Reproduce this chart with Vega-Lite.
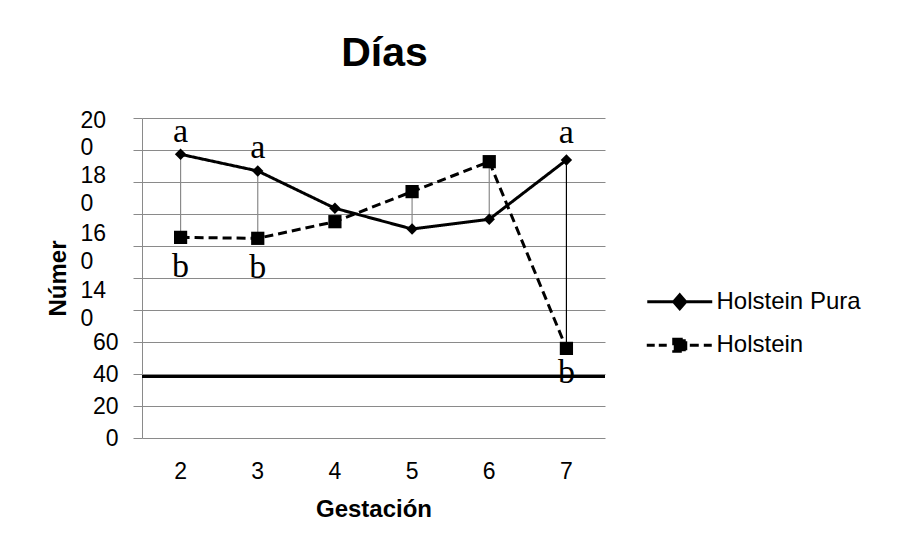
{
  "$schema": "https://vega.github.io/schema/vega-lite/v6.json",
  "width": 463,
  "height": 320,
  "autosize": "none",
  "padding": {"left": 142, "top": 118, "right": 294, "bottom": 110},
  "background": "white",
  "config": {"view": {"stroke": null}, "font": "Liberation Sans"},
  "title": {"text": "Días", "fontSize": 41, "fontWeight": "bold", "font": "Liberation Sans", "color": "black", "anchor": "middle", "frame": "group", "baseline": "alphabetic", "offset": 2, "dx": 11},
  "datasets": {
    "series": [
      {"g": 2, "serie": "Holstein Pura", "v": 177.3},
      {"g": 3, "serie": "Holstein Pura", "v": 166.9},
      {"g": 4, "serie": "Holstein Pura", "v": 143.6},
      {"g": 5, "serie": "Holstein Pura", "v": 130.6},
      {"g": 6, "serie": "Holstein Pura", "v": 136.7},
      {"g": 7, "serie": "Holstein Pura", "v": 173.75},
      {"g": 2, "serie": "Holstein", "v": 125.4},
      {"g": 3, "serie": "Holstein", "v": 124.8},
      {"g": 4, "serie": "Holstein", "v": 135.2},
      {"g": 5, "serie": "Holstein", "v": 154},
      {"g": 6, "serie": "Holstein", "v": 172.7},
      {"g": 7, "serie": "Holstein", "v": 56}
    ],
    "letras": [
      {"g": 2, "letra": "a", "v": 185.2},
      {"g": 3, "letra": "a", "v": 174.8},
      {"g": 7, "letra": "a", "v": 184.2},
      {"g": 2, "letra": "b", "v": 100.8},
      {"g": 3, "letra": "b", "v": 99.8},
      {"g": 7, "letra": "b", "v": 34.2}
    ]
  },
  "encoding": {
    "x": {
      "field": "g", "type": "ordinal",
      "scale": {"paddingInner": 0, "paddingOuter": 0},
      "axis": {"title": "Gestación", "titleFontSize": 24, "titleFontWeight": "bold", "titleColor": "black", "titlePadding": 14, "labelFontSize": 23, "labelColor": "black", "labelAngle": 0, "labelPadding": 22, "ticks": false, "domain": false, "grid": false}
    }
  },
  "layer": [
    {
      "data": {"name": "series"},
      "mark": {"type": "rule", "strokeWidth": 1.2},
      "transform": [{"filter": "datum.g != 4"}],
      "encoding": {
        "y": {
          "aggregate": "min", "field": "v", "type": "quantitative",
          "scale": {"domain": [0, 200], "nice": false},
          "title": "Númer",
          "axis": {
            "title": "Númer",
            "titleFontSize": 24, "titleFontWeight": "bold", "titleColor": "black", "titlePadding": 10,
            "values": [0, 20, 40, 60, 80, 100, 120, 140, 160, 180, 200],
            "tickCount": 20,
            "labelExpr": "datum.value == 200 ? ['20', '0'] : datum.value == 160 ? ['18', '0'] : datum.value == 120 ? ['16', '0'] : datum.value == 80 ? ['14', '0'] : (datum.value == 100 || datum.value == 140 || datum.value == 180) ? '' : datum.label",
            "labelFontSize": 23, "labelColor": "black",
            "labelOverlap": false, "labelBound": false, "labelFlush": false,
            "labelLineHeight": 27.5,
            "labelBaseline": "middle",
            "labelAlign": {"condition": {"test": "datum.value == 80 || datum.value == 120 || datum.value == 160 || datum.value == 200", "value": "left"}, "value": "right"},
            "labelPadding": {"condition": {"test": "datum.value == 80 || datum.value == 120 || datum.value == 160 || datum.value == 200", "value": 53}, "value": 15},
            "labelOffset": {"condition": [
              {"test": "datum.value == 200", "value": 2},
              {"test": "datum.value == 160", "value": -6.5},
              {"test": "datum.value == 120", "value": -12.5},
              {"test": "datum.value == 80", "value": -19.5}
            ], "value": 0},
            "tickSize": 9, "tickColor": "#8a8a8a", "tickWidth": 1,
            "domainColor": "#8a8a8a", "domainWidth": 1,
            "gridColor": "#8a8a8a", "gridWidth": 1
          }
        },
        "y2": {"aggregate": "max", "field": "v"},
        "color": {"condition": {"test": "datum.g == 7", "value": "black"}, "value": "#8a8a8a"}
      }
    },
    {
      "data": {"name": "series"},
      "mark": {"type": "rule", "color": "black", "strokeWidth": 2.5},
      "encoding": {
        "x": null,
        "y": {"datum": 38.3, "type": "quantitative", "title": "Númer"}
      }
    },
    {
      "data": {"name": "series"},
      "mark": {"type": "line", "color": "black", "strokeWidth": 3},
      "encoding": {
        "y": {"field": "v", "type": "quantitative", "title": "Númer"},
        "strokeDash": {
          "field": "serie", "type": "nominal",
          "scale": {"domain": ["Holstein Pura", "Holstein"], "range": [[1, 0], [9, 5]]},
          "legend": {
            "title": null, "orient": "none", "legendX": 519.75, "legendY": 165.75,
            "symbolSize": 1056, "labelFontSize": 24, "labelColor": "black", "labelOffset": 18.75,
            "rowPadding": 12.5, "padding": 0, "symbolStrokeWidth": 3,
            "symbolType": "M-2,0H2M-0.37,0L0,-0.43L0.37,0L0,0.43Z",
            "symbolFillColor": "black", "symbolStrokeColor": "black",
            "encode": {
              "symbols": {
                "update": {
                  "shape": [
                    {"test": "datum.value === 'Holstein'", "value": "M-2.03,0H-1.54M-1.29,0H-0.8M0.62,0H1.17M1.48,0H1.97M-0.37,-0.37H0.37V0.37H-0.37Z"},
                    {"value": "M-2,0H2M-0.37,0L0,-0.43L0.37,0L0,0.43Z"}
                  ],
                  "fill": {"value": "black"},
                  "stroke": {"value": "black"},
                  "strokeDash": {"value": [1, 0]},
                  "strokeWidth": {"value": 3},
                  "size": {"value": 1056},
                  "opacity": {"value": 1}
                }
              }
            }
          }
        }
      }
    },
    {
      "data": {"name": "series"},
      "transform": [{"filter": "datum.serie == 'Holstein Pura'"}],
      "mark": {"type": "point", "shape": "diamond", "size": 130, "filled": true, "color": "black", "opacity": 1},
      "encoding": {
        "y": {"field": "v", "type": "quantitative", "title": "Númer"}
      }
    },
    {
      "data": {"name": "series"},
      "transform": [{"filter": "datum.serie == 'Holstein'"}],
      "mark": {"type": "point", "shape": "square", "size": 175, "filled": true, "color": "black", "opacity": 1},
      "encoding": {
        "y": {"field": "v", "type": "quantitative", "title": "Númer"}
      }
    },
    {
      "data": {"name": "letras"},
      "mark": {"type": "text", "font": "Liberation Serif", "fontSize": 34, "baseline": "alphabetic", "align": "center", "color": "black"},
      "encoding": {
        "y": {"field": "v", "type": "quantitative", "title": "Númer"},
        "text": {"field": "letra", "type": "nominal"}
      }
    }
  ]
}
